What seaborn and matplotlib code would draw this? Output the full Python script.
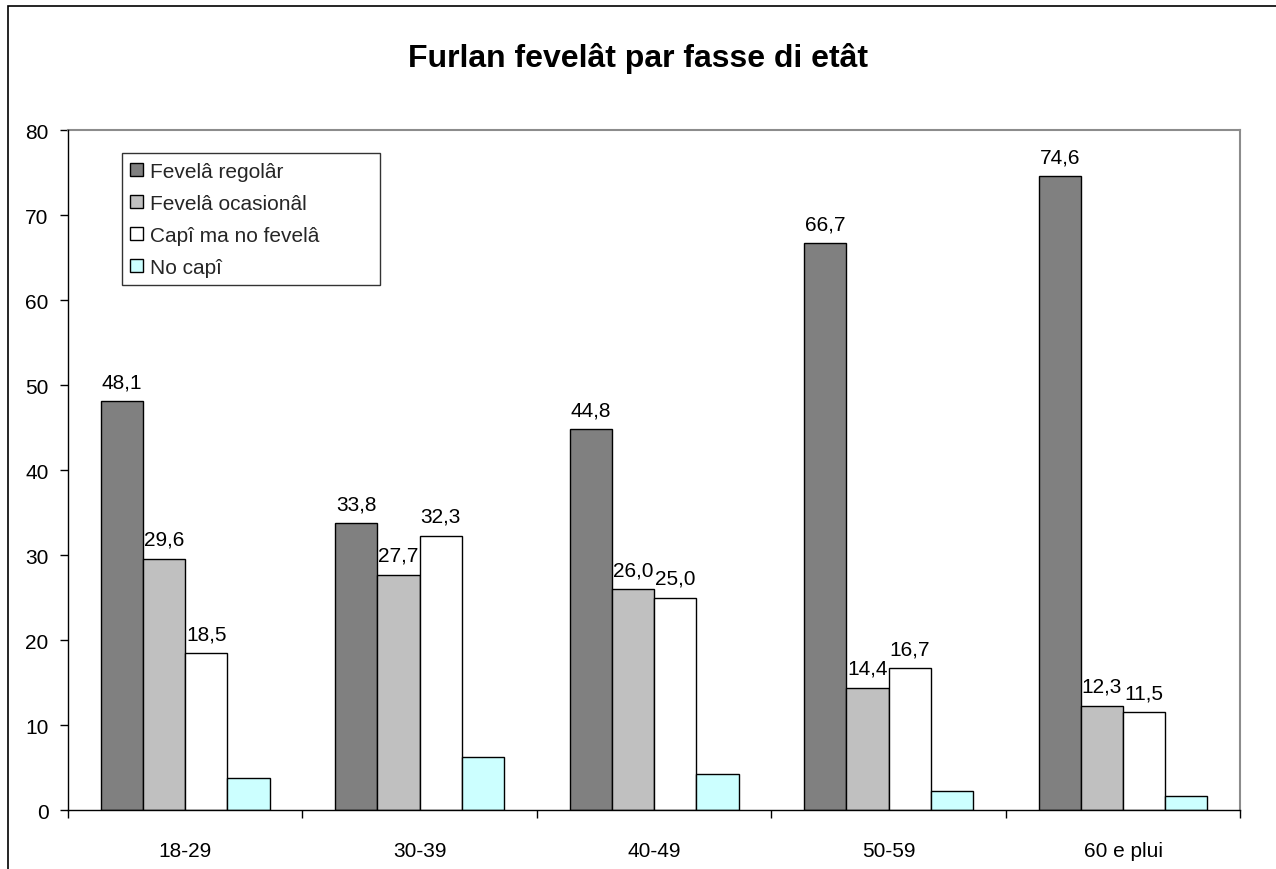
import matplotlib
matplotlib.use("Agg")
import matplotlib.pyplot as plt
from matplotlib.patches import Rectangle
import seaborn as sns
import pandas as pd

categories = ["18-29", "30-39", "40-49", "50-59", "60 e plui"]
series_names = ["Fevelâ regolâr", "Fevelâ ocasionâl", "Capî ma no fevelâ", "No capî"]
regolar = [48.1, 33.8, 44.8, 66.7, 74.6]
ocasional = [29.6, 27.7, 26.0, 14.4, 12.3]
capi_no_fevela = [18.5, 32.3, 25.0, 16.7, 11.5]
no_capi = [3.8, 6.2, 4.2, 2.2, 1.6]
colors = ["#808080", "#C0C0C0", "#FFFFFF", "#CCFFFF"]
title = "Furlan fevelât par fasse di etât"

sns.set_theme(style="white")
plt.rcParams["font.family"] = ["Liberation Sans", "DejaVu Sans"]

rows = []
for name, vals in zip(series_names, [regolar, ocasional, capi_no_fevela, no_capi]):
    for c, v in zip(categories, vals):
        rows.append({"Etât": c, "Serie": name, "Valôr": v})
df = pd.DataFrame(rows)

fig = plt.figure(figsize=(12.76, 8.7), dpi=100)
ax = fig.add_axes([0.0533, 0.0678, 0.9187, 0.7812])

sns.barplot(data=df, x="Etât", y="Valôr", hue="Serie", order=categories,
            hue_order=series_names, palette=colors, width=0.72, gap=0,
            edgecolor="black", linewidth=1.0, saturation=1, errorbar=None, ax=ax)

FS = 15

# value labels for the first three series
for cont, vals in zip(ax.containers[:3], [regolar, ocasional, capi_no_fevela]):
    ax.bar_label(cont, labels=[f"{v:.1f}".replace(".", ",") for v in vals],
                 padding=7, fontsize=FS, color="black")

ax.set_xlim(-0.5, len(categories) - 0.5)
ax.set_ylim(0, 80)
ax.set_yticks(range(0, 81, 10))
ax.set_xlabel("")
ax.set_ylabel("")
ax.set_xticks(range(len(categories)))
ax.set_xticklabels(categories)
ax.set_xticks([i - 0.5 for i in range(len(categories) + 1)], minor=True)
ax.tick_params(axis="x", which="major", length=0, pad=22, labelsize=FS, colors="black")
ax.tick_params(axis="x", which="minor", length=6, width=1, color="black", direction="out", bottom=True)
ax.tick_params(axis="y", length=6, width=1, color="black", direction="out", left=True,
               labelsize=FS, pad=8, colors="black")

for s in ["top", "right"]:
    ax.spines[s].set_visible(True)
    ax.spines[s].set_color("#8c8c8c")
    ax.spines[s].set_linewidth(1.5)
for s in ["left", "bottom"]:
    ax.spines[s].set_color("black")
    ax.spines[s].set_linewidth(1.0)
    ax.spines[s].set_zorder(5)

handles, labels = ax.get_legend_handles_labels()
leg = ax.legend(handles, labels, loc="upper left", mode="expand",
                bbox_to_anchor=(0.046, 0.0, 0.22, 0.966),
                frameon=True, fancybox=False, fontsize=FS, handlelength=0.6,
                handleheight=0.6, handletextpad=0.35, labelspacing=0.62,
                borderpad=0.4, borderaxespad=0)
leg.get_frame().set_edgecolor("black")
leg.get_frame().set_linewidth(1.0)

fig.text(0.5, 1 - 58 / 870, title, ha="center", va="center",
         fontsize=23, fontweight="bold", color="black")

# outer chart frame
fig.patches.append(Rectangle((8 / 1276, -0.2), 1.3, 1 - 7 / 870 + 0.2,
                             transform=fig.transFigure, fill=False,
                             edgecolor="black", linewidth=1.2, zorder=0))

fig.savefig("out.png", dpi=100)
